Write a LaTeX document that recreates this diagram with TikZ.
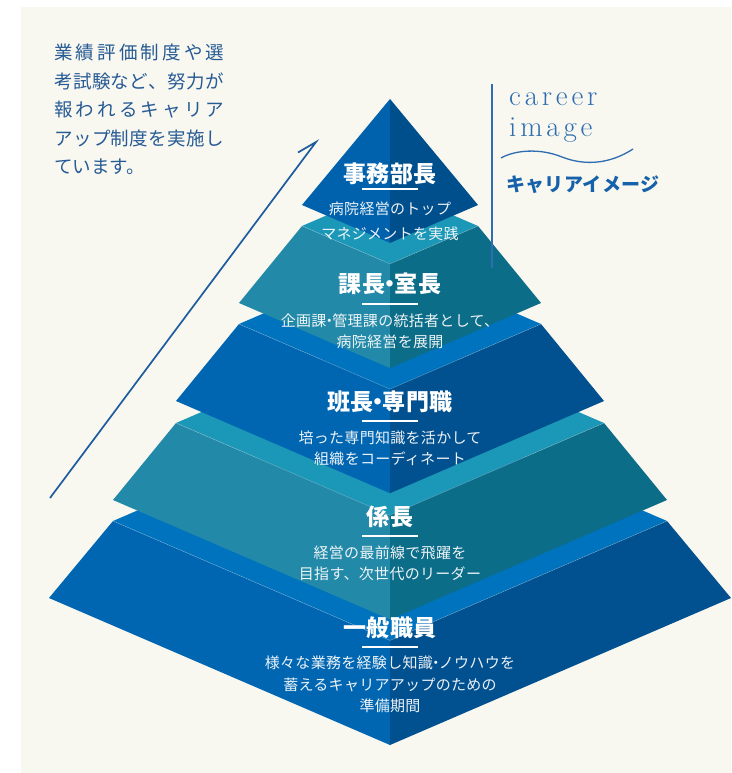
\documentclass[tikz,border=0pt]{standalone}
\usepackage{fontspec}
\newfontfamily\jpT{Noto Sans CJK JP}[LetterSpace=2]
\newfontfamily\jpD{Noto Sans CJK JP}[LetterSpace=2]
\newfontfamily\jpL{Noto Sans CJK JP}
\newfontfamily\jpK{Noto Sans CJK JP}[LetterSpace=2]
\newcommand\nakaguro{\kern-0.3em・\kern-0.3em}
\newcommand\ls{\kern3.8pt}
\definecolor{cream}{HTML}{F8F7F0}
\definecolor{bandBlue}{HTML}{0073BF}
\definecolor{leftBlue}{HTML}{0066B2}
\definecolor{rightBlue}{HTML}{01508F}
\definecolor{bandTeal}{HTML}{1B97B7}
\definecolor{leftTeal}{HTML}{2389A8}
\definecolor{rightTeal}{HTML}{0C6D89}
\definecolor{topLeft}{HTML}{0062AC}
\definecolor{topRight}{HTML}{004F8D}
\definecolor{inkBlue}{HTML}{265A94}
\definecolor{lineBlue}{HTML}{2D6DB0}
\definecolor{arrowBlue}{HTML}{1C5C9F}
\definecolor{kataBlue}{HTML}{1561AA}
\begin{document}
\begin{tikzpicture}[x=1pt,y=-1pt,
  rimline/.style={draw=white,draw opacity=0.3,line width=0.5pt},
  ptitle/.style={text=white,font=\jpT\bfseries\fontsize{23}{23}\selectfont,inner sep=0pt},
  pdesc/.style={text=white,text opacity=0.92,font=\jpD\fontsize{15}{15}\selectfont,inner sep=0pt},
  ulbar/.style={fill=white,minimum width=56pt,minimum height=2.4pt,inner sep=0pt,draw=none},
  lefttext/.style={text=inkBlue,font=\jpL\fontsize{18.5}{18.5}\selectfont,inner sep=0pt,anchor=west},
  arrowline/.style={draw=arrowBlue,line width=1.7pt,line join=miter,line cap=butt},
  latinlabel/.style={anchor=base west,inner sep=0pt,text=lineBlue,font=\rmfamily\fontsize{29}{29}\selectfont},
]
\useasboundingbox (0,0) rectangle (731,773);
\fill[white] (0,0) rectangle (731,773);
\fill[cream] (21,7) rectangle (731,773);

% ---- layer 5 (bottom, blue)
\fill[bandBlue] (113,521) -- (390,401.6) -- (667,521) -- (390,640.4) -- cycle;
\fill[leftBlue] (49,598) -- (113,521) -- (390,640.4) -- (390,745) -- cycle;
\fill[rightBlue] (731,598) -- (667,521) -- (390,640.4) -- (390,745) -- cycle;
\draw[rimline] (113,521) -- (390,640.4) -- (667,521);
% ---- layer 4 (teal)
\fill[bandTeal] (176,423) -- (390,330.8) -- (604,423) -- (390,515.2) -- cycle;
\fill[leftTeal] (113,500) -- (176,423) -- (390,515.2) -- (390,619.4) -- cycle;
\fill[rightTeal] (667,500) -- (604,423) -- (390,515.2) -- (390,619.4) -- cycle;
\draw[rimline] (176,423) -- (390,515.2) -- (604,423);
% ---- layer 3 (blue)
\fill[bandBlue] (239,324) -- (390,258.9) -- (541,324) -- (390,389.1) -- cycle;
\fill[leftBlue] (176,401) -- (239,324) -- (390,389.1) -- (390,493.2) -- cycle;
\fill[rightBlue] (604,401) -- (541,324) -- (390,389.1) -- (390,493.2) -- cycle;
\draw[rimline] (239,324) -- (390,389.1) -- (541,324);
% ---- layer 2 (teal)
\fill[bandTeal] (302,226) -- (390,188.1) -- (478,226) -- (390,263.9) -- cycle;
\fill[leftTeal] (239,303) -- (302,226) -- (390,263.9) -- (390,368.1) -- cycle;
\fill[rightTeal] (541,303) -- (478,226) -- (390,263.9) -- (390,368.1) -- cycle;
\draw[rimline] (302,226) -- (390,263.9) -- (478,226);
% ---- layer 1 (top)
\fill[topLeft] (302,205) -- (390,99) -- (390,242.9) -- cycle;
\fill[topRight] (478,205) -- (390,99) -- (390,242.9) -- cycle;

% ---- pyramid texts
\node[ptitle] (t1) at (390,174) {事務部長};
\node[ulbar] (u1) at (390,189) {};
\node[pdesc] (d1a) at (390,209) {病院経営のトップ};
\node[pdesc] (d1b) at (390,234) {マネジメントを実践};

\node[ptitle] (t2) at (390,284) {課長\nakaguro 室長};
\node[ulbar] (u2) at (390,304) {};
\node[pdesc] (d2a) at (390,321) {企画課\nakaguro 管理課の統括者として、};
\node[pdesc] (d2b) at (390,342) {病院経営を展開};

\node[ptitle] (t3) at (390,402) {班長\nakaguro 専門職};
\node[ulbar] (u3) at (390,421) {};
\node[pdesc] (d3a) at (390,438) {培った専門知識を活かして};
\node[pdesc] (d3b) at (390,459) {組織をコーディネート};

\node[ptitle] (t4) at (390,517) {係長};
\node[ulbar] (u4) at (390,536) {};
\node[pdesc] (d4a) at (390,553) {経営の最前線で飛躍を};
\node[pdesc] (d4b) at (390,574) {目指す、次世代のリーダー};

\node[ptitle] (t5) at (390,628) {一般職員};
\node[ulbar] (u5) at (390,647) {};
\node[pdesc] (d5a) at (390,663) {様々な業務を経験し知識\nakaguro ノウハウを};
\node[pdesc] (d5b) at (390,685) {蓄えるキャリアアップのための};
\node[pdesc] (d5c) at (390,706) {準備期間};

% ---- left paragraph
\node[lefttext] (p1) at (54,52) {\makebox[170pt][s]{業\hfill 績\hfill 評\hfill 価\hfill 制\hfill 度\hfill や\hfill 選}};
\node[lefttext] (p2) at (54,81) {\makebox[170pt][s]{考\hfill 試\hfill 験\hfill な\hfill ど\hfill 、\hfill 努\hfill 力\hfill が}};
\node[lefttext] (p3) at (54,110) {\makebox[170pt][s]{報\hfill わ\hfill れ\hfill る\hfill キ\hfill ャ\hfill リ\hfill ア}};
\node[lefttext] (p4) at (54,138) {\makebox[170pt][s]{ア\hfill ッ\hfill プ\hfill 制\hfill 度\hfill を\hfill 実\hfill 施\hfill し}};
\node[lefttext] (p5) at (54,167) {ています。};

% ---- arrow
\coordinate (arrS) at (50,498);
\coordinate (arrT) at (316,142);
\coordinate (arrB) at (298,152.5);
\draw[arrowline] (arrS) -- (arrT) -- (arrB);

% ---- right label
\coordinate (vTop) at (492,84);
\coordinate (vBot) at (492,268);
\draw[draw=lineBlue,line width=1.3pt] (vTop) -- (vBot);
\node[latinlabel] (car) at (509,106) {c\ls a\ls r\ls e\ls e\ls r};
\node[latinlabel] (img) at (509,136) {i\ls m\ls a\ls g\ls e};
\coordinate (wA) at (501,158);
\coordinate (wB) at (562,157);
\coordinate (wC) at (633,149);
\draw[draw=lineBlue,line width=1.3pt] (wA) .. controls (515,150) and (540,148) .. (wB)
  .. controls (585,166) and (610,164) .. (wC);
\node[anchor=west,inner sep=0pt,text=kataBlue,font=\jpK\bfseries\fontsize{19}{19}\selectfont] (kata) at (506,185) {キャリアイメージ};
\end{tikzpicture}
\end{document}
